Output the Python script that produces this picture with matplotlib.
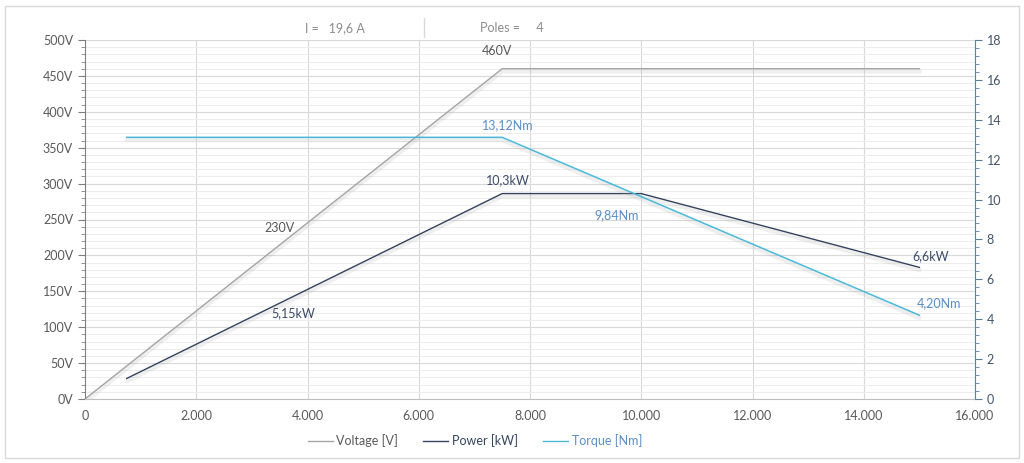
import matplotlib
matplotlib.use("Agg")
import matplotlib.pyplot as plt
import matplotlib.patheffects as pe
from matplotlib.ticker import MultipleLocator, FuncFormatter
from matplotlib.patches import Rectangle
from matplotlib.lines import Line2D

plt.rcParams['font.family'] = ['Lato', 'DejaVu Sans']

# data (speed in rpm)
volt_x = [0, 7500, 15000]
volt_y = [0, 460, 460]
power_x = [750, 7500, 10000, 15000]
power_y = [1.03, 10.3, 10.3, 6.6]
torque_x = [750, 7500, 15000]
torque_y = [13.12, 13.12, 4.20]

volt_labels = ["230V", "460V"]
power_labels = ["5,15kW", "10,3kW", "6,6kW"]
torque_labels = ["13,12Nm", "9,84Nm", "4,20Nm"]

c_volt = '#a5a5a5'
c_power = '#34435e'
c_torque = '#4bb9d9'
c_txt = '#595959'

fig = plt.figure(figsize=(10.24, 4.63), dpi=100)
fig.patches.append(Rectangle((5/1024, 5/463), 1014/1024, 452/463, transform=fig.transFigure,
                             fill=False, edgecolor='#d9d9d9', lw=1))

ax = fig.add_axes([85/1024, 1-399/463, 890/1024, 359/463])
ax2 = ax.twinx()

shadow = [pe.SimpleLineShadow(offset=(0, -2), shadow_color='#aaaaaa', alpha=0.18, linewidth=3), pe.Normal()]

ax.plot(volt_x, volt_y, color=c_volt, lw=1.0, path_effects=shadow)
ax2.plot(power_x, power_y, color=c_power, lw=1.0, path_effects=shadow)
ax2.plot(torque_x, torque_y, color=c_torque, lw=1.1, path_effects=shadow)

ax.set_xlim(0, 16000)
ax.set_ylim(0, 500)
ax2.set_ylim(0, 18)

ax.xaxis.set_major_locator(MultipleLocator(2000))
ax.xaxis.set_major_formatter(FuncFormatter(lambda v, p: f"{int(v):,}".replace(',', '.')))
ax.yaxis.set_major_locator(MultipleLocator(50))
ax.yaxis.set_minor_locator(MultipleLocator(10))
ax.yaxis.set_major_formatter(FuncFormatter(lambda v, p: f"{int(v)}V"))
ax2.yaxis.set_major_locator(MultipleLocator(2))
ax2.yaxis.set_minor_locator(MultipleLocator(0.4))

ax.grid(which='major', axis='both', color='#d9d9d9', lw=0.8)
ax.grid(which='minor', axis='y', color='#ececec', lw=0.7)
ax.set_axisbelow(True)

ax.spines['top'].set_visible(False)
ax.spines['right'].set_visible(False)
ax2.spines['top'].set_visible(False)
ax2.spines['left'].set_visible(False)
ax2.spines['bottom'].set_visible(False)
ax.spines['left'].set_color('#7f7f7f')
ax.spines['bottom'].set_color('#bfbfbf')
ax2.spines['right'].set_color('#5b7fa6')

ax.tick_params(axis='y', which='both', direction='out', color='#7f7f7f', labelcolor=c_txt, labelsize=9)
ax.tick_params(axis='y', which='major', length=5)
ax.tick_params(axis='y', which='minor', length=3)
ax.tick_params(axis='x', length=0, labelcolor=c_txt, labelsize=9, pad=8)
ax2.tick_params(axis='y', which='both', direction='out', color='#5b7fa6', labelcolor='#44546a', labelsize=9)
ax2.tick_params(axis='y', which='major', length=5)
ax2.tick_params(axis='y', which='minor', length=3)

# data labels
ax.text(3500, 238, volt_labels[0], color=c_txt, fontsize=9, ha='center', va='center')
ax.text(7400, 476, volt_labels[1], color=c_txt, fontsize=9, ha='center', va='bottom')
ax2.text(3740, 4.3, power_labels[0], color='#3b4a6b', fontsize=9, ha='center', va='center')
ax2.text(7600, 10.65, power_labels[1], color='#3b4a6b', fontsize=9, ha='center', va='bottom')
ax2.text(15200, 7.15, power_labels[2], color='#3b4a6b', fontsize=9, ha='center', va='center')
ax2.text(7600, 13.45, torque_labels[0], color='#5b8ec7', fontsize=9, ha='center', va='bottom')
ax2.text(9560, 9.2, torque_labels[1], color='#5b8ec7', fontsize=9, ha='center', va='center')
ax2.text(15350, 4.8, torque_labels[2], color='#5b8ec7', fontsize=9, ha='center', va='center')

# header
fig.text(305/1024, 1-28/463, "I =   19,6 A", color='#8c8c8c', fontsize=9, ha='left', va='center')
fig.text(480/1024, 1-28/463, "Poles =     4", color='#8c8c8c', fontsize=9, ha='left', va='center')
fig.add_artist(Line2D([424/1024, 424/1024], [1-18/463, 1-37/463], color='#d9d9d9', lw=1))

handles = [Line2D([], [], color=c_volt, lw=1.0),
           Line2D([], [], color=c_power, lw=1.0),
           Line2D([], [], color=c_torque, lw=1.0)]
leg = fig.legend(handles, ['Voltage [V]', 'Power [kW]', 'Torque [Nm]'], loc='center',
                 bbox_to_anchor=(475/1024, 1-441/463), ncol=3, frameon=False, fontsize=9,
                 handlelength=2.0, handletextpad=0.3, columnspacing=2.0)
for t, c in zip(leg.get_texts(), [c_txt, '#34435e', '#5b8ec7']):
    t.set_color(c)

fig.savefig('out.png', dpi=100)
